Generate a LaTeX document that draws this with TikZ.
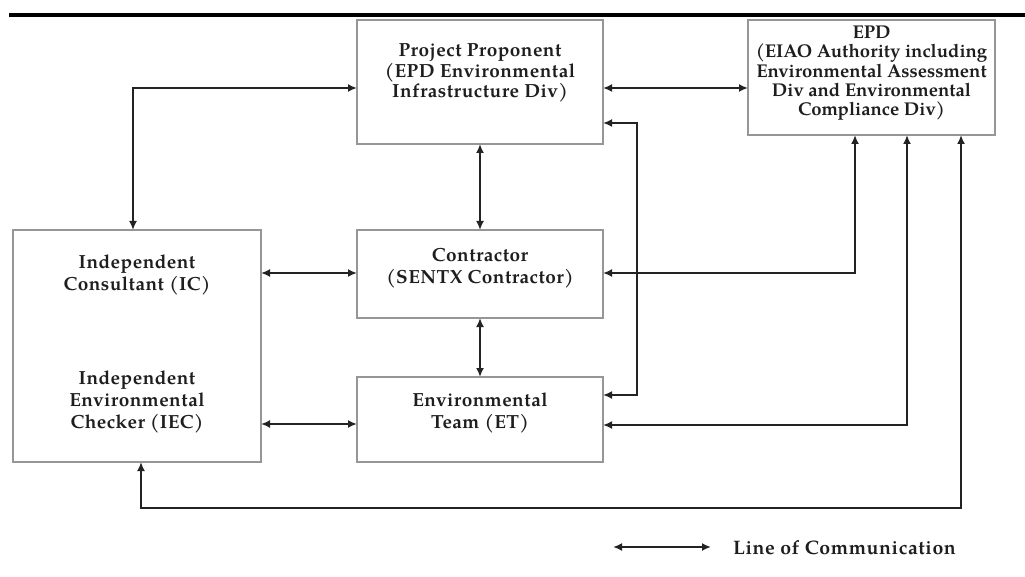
\documentclass[tikz,border=0pt]{standalone}
\usepackage{fontspec}
\setmainfont{texgyrepagella}[Extension=.otf,UprightFont=*-regular,BoldFont=*-bold]
\usetikzlibrary{arrows.meta}
\definecolor{boxgray}{RGB}{150,150,150}
\definecolor{linecol}{RGB}{35,35,35}
\definecolor{txtcol}{RGB}{30,30,30}
\begin{document}
\begin{tikzpicture}[x=1pt,y=-1pt,
  box/.style={draw=boxgray,line width=1.4pt,inner sep=0pt,outer sep=0pt,fill=white},
  lbl/.style={inner sep=0pt,outer sep=0pt,align=center,text=txtcol,font=\fontsize{19}{22}\selectfont\bfseries\addfontfeature{LetterSpace=2.5}},
  conn/.style={draw=linecol,line width=2.1pt,{Latex[length=9pt,width=8pt]}-{Latex[length=9pt,width=8pt]}},
  topbar/.style={draw=black,line width=4pt}]
\fill[white] (0,0) rectangle (1025,577);
\useasboundingbox (0,0) rectangle (1025,577);
\coordinate (t1) at (9,15);
\coordinate (t2) at (1025,15);
\draw[topbar] (t1) -- (t2);
% boxes
\node[box,minimum width=246pt,minimum height=124pt] (pp) at (480,82) {};
\node[box,minimum width=247pt,minimum height=115pt] (epd) at (871.5,77.5) {};
\node[box,minimum width=248pt,minimum height=232pt] (ic) at (137,346) {};
\node[box,minimum width=246pt,minimum height=88pt] (con) at (480,274) {};
\node[box,minimum width=246pt,minimum height=85pt] (et) at (480,419.5) {};
% texts
\node[lbl,anchor=north,font=\fontsize{19}{20.5}\selectfont\bfseries\addfontfeature{LetterSpace=2.5}] (ppt) at (480,44) {Project Proponent\\(EPD Environmental\\Infrastructure Div)};
\node[lbl,anchor=north,font=\fontsize{18.5}{19.3}\selectfont\bfseries] (epdt) at (871.5,26) {EPD\\(EIAO Authority including\\Environmental Assessment\\Div and Environmental\\Compliance Div)};
\node[lbl,anchor=north] (ict) at (137,255) {Independent\\Consultant (IC)};
\node[lbl,anchor=north] (iect) at (137,371) {Independent\\Environmental\\Checker (IEC)};
\node[lbl,anchor=north] (cont) at (480,248) {Contractor\\(SENTX Contractor)};
\node[lbl,anchor=north] (ett) at (480,393) {Environmental\\Team (ET)};
% coordinates
\coordinate (b1) at (133,88);
\coordinate (y5) at (0,273);
\coordinate (y6) at (0,424);
\coordinate (b7a) at (637,123);
\coordinate (b7b) at (637,395);
\coordinate (b8) at (855,273);
\coordinate (b9) at (907,425);
\coordinate (b10a) at (961,508);
\coordinate (b10b) at (141,508);
% connectors
\draw[conn] (ic.north -| b1) |- (pp.west |- b1);
\draw[conn] (pp.east |- b1) -- (epd.west |- b1);
\draw[conn] (pp.south) -- (con.north);
\draw[conn] (con.south) -- (et.north);
\draw[conn] (ic.east |- y5) -- (con.west |- y5);
\draw[conn] (ic.east |- y6) -- (et.west |- y6);
\draw[conn] (pp.east |- b7a) -- (b7a) -- (b7b) -- (et.east |- b7b);
\draw[conn] (epd.south -| b8) |- (con.east |- b8);
\draw[conn] (epd.south -| b9) |- (et.east |- b9);
\draw[conn] (epd.south -| b10a) -- (b10a) -- (b10b) -- (ic.south -| b10b);
% legend
\coordinate (l1) at (613,547);
\coordinate (l2) at (711,547);
\draw[conn] (l1) -- (l2);
\node[lbl,anchor=base west,font=\fontsize{19.5}{22}\selectfont\bfseries\addfontfeature{LetterSpace=3}] (legt) at (733,554) {Line of Communication};
\end{tikzpicture}
\end{document}
